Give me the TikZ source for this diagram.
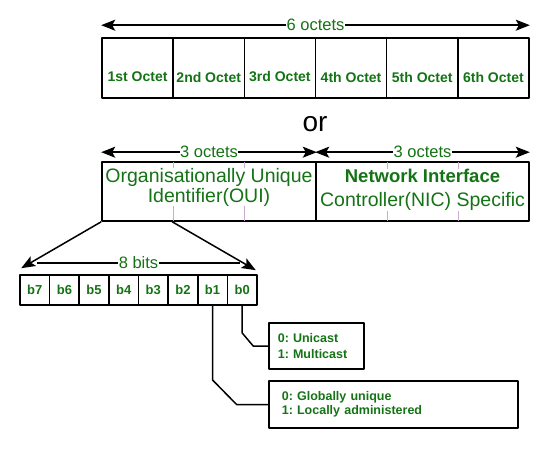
\documentclass[tikz,border=0pt]{standalone}
\usepackage{fontspec}
\setmainfont{Liberation Sans}
\usetikzlibrary{arrows.meta}
\definecolor{macgreen}{RGB}{20,115,20}
\definecolor{faintpurple}{RGB}{205,170,210}
\frenchspacing

\begin{document}
\begin{tikzpicture}[x=1pt,y=-1pt,>={Stealth[length=14pt,width=11pt,inset=3pt]},
            line join=round,
            box/.style={draw,line width=1.6pt,inner sep=0pt},
            octcell/.style={box,minimum width=71.17pt,minimum height=60pt},
            halfcell/.style={box,minimum height=59pt},
            bitcell/.style={box,minimum width=29.62pt,minimum height=30pt,
              text=macgreen,font=\fontsize{13}{15}\selectfont\bfseries},
            octtext/.style={text=macgreen,inner sep=0pt,
              font=\fontsize{14}{16}\selectfont\bfseries},
            arrowtext/.style={text=macgreen,fill=white,inner sep=0.6pt,
              font=\fontsize{16.5}{18}\selectfont},
            halftext/.style={text=macgreen,fill=white,inner sep=0pt,align=center},
            infobox/.style={box,anchor=west,align=left,text=macgreen,
              font=\fontsize{12.5}{16}\selectfont\bfseries},
            link/.style={line width=1.5pt},
            divider/.style={faintpurple,line width=0.8pt}]
            \useasboundingbox (0,0) rectangle (554,454);
            % six octets
            \node[octcell,label={[octtext,yshift=-9pt]center:1st Octet}] (o1) at (137.58,68) {};
            \node[octcell,label={[octtext,yshift=-9pt]center:2nd Octet}] (o2) at (208.75,68) {};
            \node[octcell,label={[octtext,yshift=-9pt]center:3rd Octet}] (o3) at (279.92,68) {};
            \node[octcell,label={[octtext,yshift=-9pt]center:4th Octet}] (o4) at (351.08,68) {};
            \node[octcell,label={[octtext,yshift=-9pt]center:5th Octet}] (o5) at (422.25,68) {};
            \node[octcell,label={[octtext,yshift=-9pt]center:6th Octet}] (o6) at (493.42,68) {};
            \draw[<->,link] ([yshift=12pt]o1.north west) -- node[arrowtext]{6 octets} ([yshift=12pt]o6.north east);
            \node[font=\fontsize{28}{30}\selectfont] (or) at (315,124) {or};
            % OUI and NIC halves
            \node[halfcell,minimum width=214pt] (oui) at (209,191.5) {};
            \node[halfcell,minimum width=213pt] (nic) at (422.5,191.5) {};
            \draw[divider] (173,162) -- (173,221);
            \draw[divider] (244,162) -- (244,221);
            \draw[divider] (387,162) -- (387,221);
            \draw[divider] (458,162) -- (458,221);
            \node[halftext,font=\fontsize{19.5}{20}\selectfont] (ouitext) at (209,187) {Organisationally Unique\\Identifier(OUI)};
            \node[halftext,font=\fontsize{19.5}{24}\selectfont] (nictext) at (422.5,190) {{\fontsize{18.5}{24}\selectfont\bfseries Network Interface}\\Controller(NIC) Specific};
            \draw[<->,link] ([yshift=9pt]oui.north west) -- node[arrowtext]{3 octets} ([yshift=9pt]oui.north east);
            \draw[<->,link] ([yshift=9pt]nic.north west) -- node[arrowtext]{3 octets} ([yshift=9pt]nic.north east);
            % first octet bits
            \node[bitcell] (b7) at (34.81,290) {b7};
            \node[bitcell] (b6) at (64.44,290) {b6};
            \node[bitcell] (b5) at (94.06,290) {b5};
            \node[bitcell] (b4) at (123.69,290) {b4};
            \node[bitcell] (b3) at (153.31,290) {b3};
            \node[bitcell] (b2) at (182.94,290) {b2};
            \node[bitcell] (b1) at (212.56,290) {b1};
            \node[bitcell] (b0) at (242.19,290) {b0};
            \coordinate (bitsL) at ([xshift=2pt,yshift=6pt]b7.north west);
            \coordinate (bitsR) at ([xshift=-2pt,yshift=4pt]b0.north east);
            \coordinate (ouiB) at ([xshift=71pt]oui.south west);
            \coordinate (eightL) at (37,263);
            \coordinate (eightR) at (240,263);
            \draw[->,link] (oui.south west) -- (bitsL);
            \draw[->,link] (ouiB) -- (bitsR);
            \draw[link] (eightL) -- node[arrowtext]{8 bits} (eightR);
            % meaning of b0 and b1
            \node[infobox,text width=77pt,inner xsep=9pt,minimum height=46pt] (uni) at (268,346) {0: Unicast\\1: Multicast};
            \node[infobox,text width=223pt,inner xsep=13pt,minimum height=47pt,
              font=\fontsize{12.5}{14.5}\selectfont\bfseries] (glob) at (268,404.5) {0: Globally unique\\1: Locally administered};
            \draw[link] (b0.south) -- ([yshift=13pt]b0.south |- uni.west) -- ([xshift=11pt]b0.south |- uni.west) -- (uni.west);
            \draw[link] (b1.south) -- ([yshift=24.5pt]b1.south |- glob.west) -- ([xshift=24pt]b1.south |- glob.west) -- (glob.west);
        \end{tikzpicture}
\end{document}
